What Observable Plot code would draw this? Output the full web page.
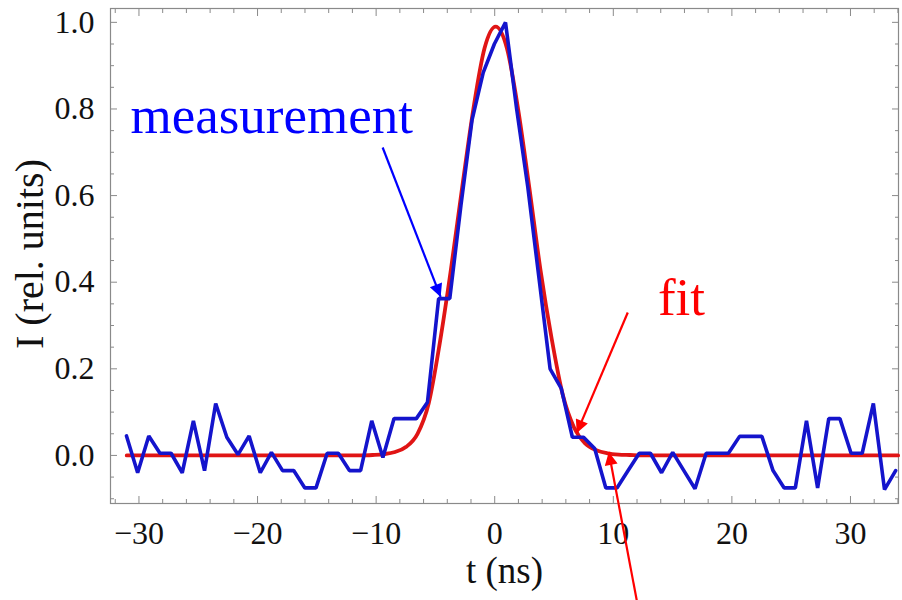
<!DOCTYPE html>
<html><head><meta charset="utf-8">
<script src="https://cdn.jsdelivr.net/npm/d3@7"></script>
<script src="https://cdn.jsdelivr.net/npm/@observablehq/plot@0.6"></script>
<style>body{margin:0;background:#fff}</style>
</head><body><div id="chart"></div>
<script>
const tMeas = [-31.05,-30.11,-29.17,-28.23,-27.29,-26.35,-25.41,-24.47,-23.53,-22.59,-21.65,-20.71,-19.77,-18.83,-17.89,-16.95,-16.01,-15.07,-14.13,-13.19,-12.25,-11.31,-10.37,-9.43,-8.49,-7.55,-6.61,-5.67,-4.73,-3.79,-2.85,-1.91,-0.97,-0.03,0.91,1.85,2.79,3.73,4.67,5.61,6.55,7.49,8.43,9.37,10.31,11.25,12.19,13.13,14.07,15.01,15.95,16.89,17.83,18.77,19.71,20.65,21.59,22.53,23.47,24.41,25.35,26.29,27.23,28.17,29.11,30.05,30.99,31.93,32.87,33.81];
const iMeas = [0.045,-0.04,0.045,0.005,0.005,-0.04,0.08,-0.035,0.12,0.042,0.002,0.045,-0.04,0.007,-0.035,-0.035,-0.075,-0.075,0.005,0.005,-0.035,-0.035,0.08,-0.005,0.085,0.085,0.085,0.123,0.362,0.362,0.577,0.775,0.884,0.95,1.0,0.80,0.62,0.41,0.20,0.155,0.042,0.042,0.016,-0.075,-0.075,-0.035,0.005,0.005,-0.04,0.007,-0.035,-0.077,0.005,0.005,0.005,0.044,0.044,0.044,-0.035,-0.075,-0.075,0.08,-0.075,0.085,0.085,0.005,0.005,0.12,-0.079,-0.035];
// fitted curve
const tFit = [-31.03,-28.19,-23.48,-18.77,-14.06,-11.23,-10.29,-9.34,-8.40,-7.46,-6.51,-5.57,-4.63,-3.69,-2.74,-1.80,-0.86,0.08,1.03,1.97,2.91,3.85,4.80,5.74,6.68,7.62,8.57,9.51,10.45,11.39,12.34,14.22,18.94,23.65,28.36,34.02];
const iFit = [0,0,0,0,0,0,0.001,0.003,0.008,0.02,0.05,0.12,0.26,0.43,0.62,0.80,0.94,0.99,0.94,0.80,0.62,0.43,0.27,0.14,0.065,0.028,0.012,0.005,0.002,0.001,0,0,0,0,0,0];
// ticks
const xMajor = [-30,-20,-10,0,10,20,30];
const xMinor = [-32,-28,-26,-24,-22,-18,-16,-14,-12,-8,-6,-4,-2,2,4,6,8,12,14,16,18,22,24,26,28,32,34];
const yMajor = [0,0.2,0.4,0.6,0.8,1.0];
const yMinor = [-0.1,-0.05,0.05,0.1,0.15,0.25,0.3,0.35,0.45,0.5,0.55,0.65,0.7,0.75,0.85,0.9,0.95];
// annotations
const annText = ["measurement","fit"];
const annT = [-30.72,13.76];
const annI = [0.745,0.325];
const annColor = ["#0000ff","#ff0000"];
const arrowT1 = [-9.45,11.22,11.98];
const arrowI1 = [0.711,0.330,-0.335];
const arrowT2 = [-4.56,6.92,9.62];
const arrowI2 = [0.366,0.052,0.008];
const arrowColor = ["#0000ff","#ff0000","#ff0000"];
const xLabel = "t (ns)";
const yLabel = "I (rel. units)";

const meas = tMeas.map((t,i)=>({t, v:iMeas[i]}));
const fit = tFit.map((t,i)=>({t, v:iFit[i]}));
const ann = annText.map((s,i)=>({s, t:annT[i], v:annI[i], c:annColor[i]}));
const arrows = arrowT1.map((t,i)=>({t1:t, v1:arrowI1[i], t2:arrowT2[i], v2:arrowI2[i], c:arrowColor[i]}));

const frameColor = "#8a8a8a";
const svg = Plot.plot({
  width: 902, height: 600,
  marginLeft: 110, marginRight: 4, marginTop: 8, marginBottom: 97,
  style: {fontFamily: "'Liberation Serif', serif", background: "#fff", overflow: "visible"},
  x: {domain: [-32.4, 34.05]},
  y: {domain: [-0.111, 1.032]},
  marks: [
    Plot.frame({stroke: frameColor, strokeWidth: 1.2}),
    Plot.axisX(xMajor, {anchor: "bottom", tickSize: -7, fill: "none", stroke: frameColor, label: null}),
    Plot.axisX(xMinor, {anchor: "bottom", tickSize: -4, fill: "none", stroke: frameColor, label: null}),
    Plot.axisX(xMajor, {anchor: "top", tickSize: -7, fill: "none", stroke: frameColor, label: null}),
    Plot.axisX(xMinor, {anchor: "top", tickSize: -4, fill: "none", stroke: frameColor, label: null}),
    Plot.axisY(yMajor, {anchor: "left", tickSize: -7, fill: "none", stroke: frameColor, label: null}),
    Plot.axisY(yMinor, {anchor: "left", tickSize: -4, fill: "none", stroke: frameColor, label: null}),
    Plot.axisY(yMajor, {anchor: "right", tickSize: -7, fill: "none", stroke: frameColor, label: null}),
    Plot.axisY(yMinor, {anchor: "right", tickSize: -4, fill: "none", stroke: frameColor, label: null}),
    Plot.axisX(xMajor, {anchor: "bottom", tickSize: 0, tickPadding: 18, tickFormat: d3.format("d"), fontSize: 32, fill: "#111", label: null}),
    Plot.axisY(yMajor, {anchor: "left", tickSize: 0, tickPadding: 16, tickFormat: d3.format(".1f"), fontSize: 32, fill: "#111", label: null}),
    Plot.text([xLabel], {frameAnchor: "bottom", dy: 79, fontSize: 37, fill: "#111"}),
    Plot.text([yLabel], {frameAnchor: "left", textAnchor: "middle", dx: -80, dy: -2, rotate: -90, fontSize: 40, fill: "#111"}),
    Plot.line(fit, {x: "t", y: "v", stroke: "#e01515", strokeWidth: 3.8, curve: "monotone-x"}),
    Plot.line(meas, {x: "t", y: "v", stroke: "#1414cc", strokeWidth: 3.6, strokeLinejoin: "miter"}),
    Plot.link(arrows, {x1: "t1", y1: "v1", x2: "t2", y2: "v2", stroke: "c", strokeWidth: 2.2}),
    Plot.text(ann, {x: "t", y: "v", text: "s", fill: "c", textAnchor: "start", fontSize: 53, lineAnchor: "bottom"})
  ]
});
// filled arrowheads
const s = d3.select(svg);
const defs = s.insert("defs", ":first-child");
function mk(id, color){
  defs.append("marker").attr("id", id).attr("viewBox", "0 0 10 10").attr("refX", 10).attr("refY", 5)
    .attr("markerUnits", "userSpaceOnUse").attr("markerWidth", 17).attr("markerHeight", 13).attr("orient", "auto")
    .append("path").attr("d", "M0,0L10,5L0,10Z").attr("fill", color);
}
mk("ahb", "#0000ff"); mk("ahr", "#ff0000");
s.selectAll('g[aria-label="link"] path').each(function(){
  const c = this.getAttribute("stroke");
  this.setAttribute("marker-end", c === "#0000ff" ? "url(#ahb)" : "url(#ahr)");
});
document.getElementById("chart").appendChild(svg);
</script>
</body></html>
